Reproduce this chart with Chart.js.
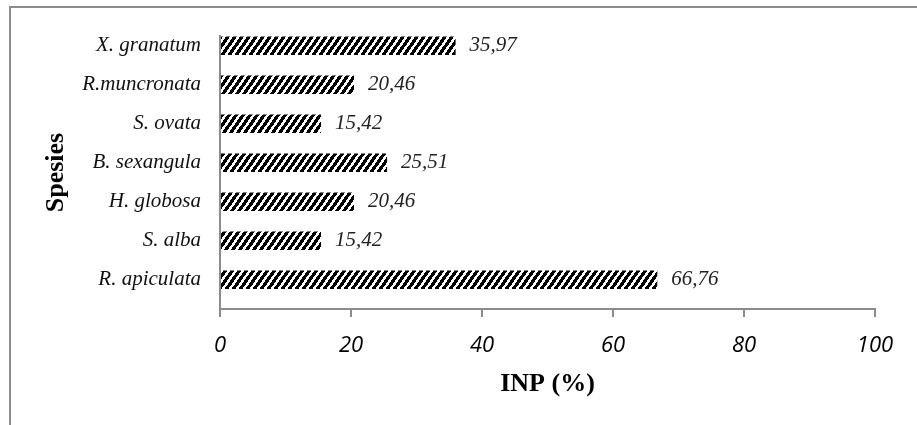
<!DOCTYPE html>
<html>
<head>
  <title>INP Spesies</title>
  <script src="https://cdn.jsdelivr.net/npm/chart.js"></script>
  <style>
    body { margin: 0; background: #fff; }
    #frame { position: absolute; left: 9px; top: 6px; width: 1000px; height: 500px;
             border-top: 2px solid #8c8c8c; border-left: 2px solid #8c8c8c; }
    #chart { position: absolute; left: 0; top: 0; }
  </style>
</head>
<body>
  <div id="frame"></div>
  <canvas id="chart" width="917" height="425"></canvas>

  <script>
    // species, top to bottom as drawn
    const species = ['X. granatum', 'R.muncronata', 'S. ovata', 'B. sexangula', 'H. globosa', 'S. alba', 'R. apiculata'];
    const inp = [35.97, 20.46, 15.42, 25.51, 20.46, 15.42, 66.76];
    const xTicks = [0, 20, 40, 60, 80, 100];

    const axisGray = '#8c8c8c';

    // black diagonal hatch, a bit steeper than 45deg
    function hatch() {
      const w = 7, h = 10;
      const pc = document.createElement('canvas');
      pc.width = w; pc.height = h;
      const g = pc.getContext('2d');
      g.fillStyle = '#fff';
      g.fillRect(0, 0, w, h);
      g.fillStyle = '#000';
      for (let y = 0; y < h; y++) {
        const x0 = Math.round((h - 1 - y) * w / h);
        for (let k = 0; k < 4; k++) g.fillRect((x0 + k) % w, y, 1, 1);
      }
      return document.getElementById('chart').getContext('2d').createPattern(pc, 'repeat');
    }

    const valueLabels = {
      id: 'valueLabels',
      afterDatasetsDraw(chart) {
        const ctx = chart.ctx;
        const meta = chart.getDatasetMeta(0);
        ctx.save();
        ctx.font = 'italic 21px "Liberation Serif"';
        ctx.fillStyle = '#222';
        ctx.textAlign = 'left';
        ctx.textBaseline = 'middle';
        meta.data.forEach((bar, i) => {
          ctx.fillText(inp[i].toFixed(2).replace('.', ','), bar.x + 14, bar.y);
        });
        ctx.restore();
      }
    };

    new Chart(document.getElementById('chart'), {
      type: 'bar',
      data: {
        datasets: [{
          data: species.map((s, i) => ({ x: inp[i], y: i })),
          backgroundColor: hatch(),
          borderWidth: 0,
          categoryPercentage: 1,
          barPercentage: 0.475
        }]
      },
      options: {
        indexAxis: 'y',
        responsive: false,
        animation: false,
        layout: { padding: { top: 36, right: 42, left: 0, bottom: 0 } },
        plugins: { legend: { display: false }, tooltip: { enabled: false } },
        scales: {
          x: {
            type: 'linear',
            min: 0, max: 100,
            afterBuildTicks: (s) => { s.ticks = xTicks.map(v => ({ value: v })); },
            afterFit: (s) => { s.height = 116; },
            border: { display: true, color: axisGray, width: 2 },
            grid: { drawOnChartArea: false, drawTicks: true, tickLength: 8, color: axisGray, lineWidth: 2 },
            ticks: { color: '#000', padding: 16, font: { family: '"Open Sans"', size: 22, style: 'italic' } },
            title: {
              display: true, text: 'INP (%)', color: '#000',
              font: { family: '"Liberation Serif"', size: 26, weight: 'bold' },
              padding: { top: 0, bottom: 25 }
            }
          },
          y: {
            type: 'linear',
            reverse: true,
            offset: false,
            min: -0.25, max: 6.75,
            afterBuildTicks: (s) => { s.ticks = species.map((_, i) => ({ value: i })); },
            afterFit: (s) => { s.width = 220; },
            border: { display: true, color: axisGray, width: 2 },
            grid: { display: false, drawTicks: false },
            ticks: {
              color: '#111', padding: 19,
              font: { family: '"Liberation Serif"', size: 21, style: 'italic' },
              callback: (v) => species[v]
            },
            title: {
              display: true, text: 'Spesies', color: '#000',
              font: { family: '"Liberation Serif"', size: 26, weight: 'bold' },
              padding: { top: 41, bottom: 0 }
            }
          }
        }
      },
      plugins: [valueLabels]
    });
  </script>
</body>
</html>
